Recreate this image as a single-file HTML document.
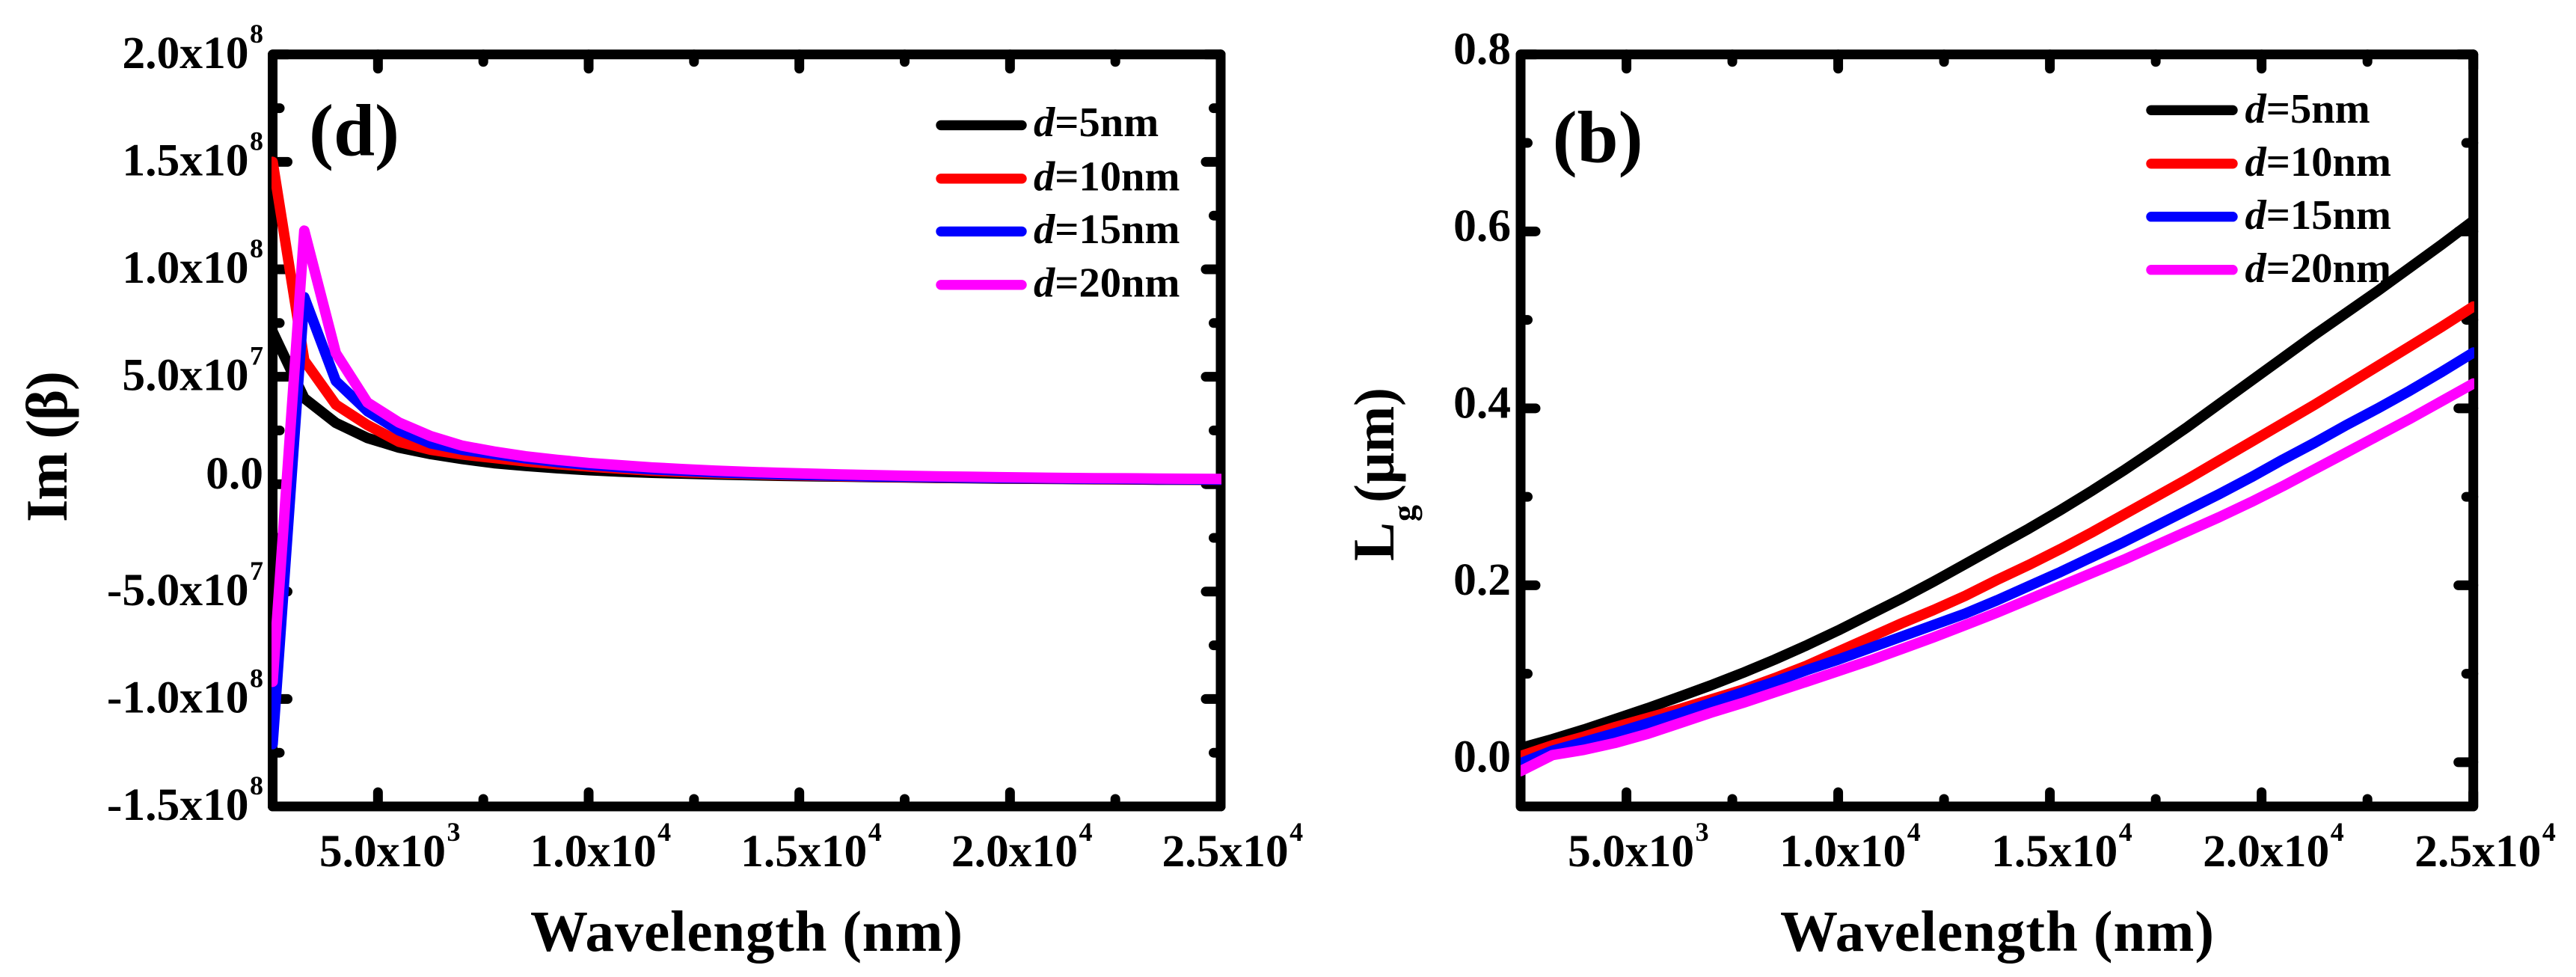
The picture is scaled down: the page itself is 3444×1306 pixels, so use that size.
<!DOCTYPE html>
<html lang="en">
<head>
<meta charset="utf-8">
<title>Im(β) and Lg versus wavelength</title>
<style>
html,body{margin:0;padding:0;background:#fff;}
svg{display:block;}
text{font-family:"Liberation Serif","DejaVu Serif",serif;font-weight:bold;fill:#000;}
</style>
</head>
<body>
<svg id="figure" xmlns="http://www.w3.org/2000/svg" width="3444" height="1306" viewBox="0 0 3444 1306">
<rect x="0" y="0" width="3444" height="1306" fill="#fff"/>
<defs>
<clipPath id="clip-left"><rect x="363" y="60" width="1270" height="1030"/></clipPath>
<clipPath id="clip-right"><rect x="2033" y="60" width="1275" height="1030"/></clipPath>
</defs>
<g id="panel-left"></g>
<g id="panel-right"></g>

<text x="413" y="207.6" font-size="99">(d)</text>
<text x="2075.6" y="216.5" font-size="99">(b)</text>

<text x="709" y="1271" font-size="77" textLength="578" lengthAdjust="spacing">Wavelength (nm)</text>
<text x="2380" y="1271" font-size="77" textLength="580" lengthAdjust="spacing">Wavelength (nm)</text>

<text transform="translate(89,698) rotate(-90)" font-size="78" textLength="202" lengthAdjust="spacing">Im (β)</text>
<g>
<text transform="translate(1863,750) rotate(-90)" font-size="78">L</text>
<text transform="translate(1892,697) rotate(-90)" font-size="44" font-weight="normal">g</text>
<text transform="translate(1863,672) rotate(-90)" font-size="76" textLength="154" lengthAdjust="spacingAndGlyphs">(μm)</text>
</g>

<g stroke-linecap="round">
<line x1="1258" x2="1366" y1="167.4" y2="167.4" stroke="#000" stroke-width="13.4"/>
<line x1="1258" x2="1366" y1="238.8" y2="238.8" stroke="#f00" stroke-width="13.4"/>
<line x1="1258" x2="1366" y1="309.4" y2="309.4" stroke="#00f" stroke-width="13.4"/>
<line x1="1258" x2="1366" y1="380.8" y2="380.8" stroke="#f0f" stroke-width="13.4"/>
<text x="1382" y="182" font-size="56.5"><tspan font-style="italic">d</tspan>=5nm</text>
<text x="1382" y="254.5" font-size="56.5"><tspan font-style="italic">d</tspan>=10nm</text>
<text x="1382" y="325" font-size="56.5"><tspan font-style="italic">d</tspan>=15nm</text>
<text x="1382" y="396.4" font-size="56.5"><tspan font-style="italic">d</tspan>=20nm</text>
</g>

<g stroke-linecap="round">
<line x1="2876" x2="2985" y1="147.3" y2="147.3" stroke="#000" stroke-width="13.4"/>
<line x1="2876" x2="2985" y1="218.8" y2="218.8" stroke="#f00" stroke-width="13.4"/>
<line x1="2876" x2="2985" y1="289.7" y2="289.7" stroke="#00f" stroke-width="13.4"/>
<line x1="2876" x2="2985" y1="360.7" y2="360.7" stroke="#f0f" stroke-width="13.4"/>
<text x="3001.5" y="163.8" font-size="56.5"><tspan font-style="italic">d</tspan>=5nm</text>
<text x="3001.5" y="235" font-size="56.5"><tspan font-style="italic">d</tspan>=10nm</text>
<text x="3001.5" y="306" font-size="56.5"><tspan font-style="italic">d</tspan>=15nm</text>
<text x="3001.5" y="377" font-size="56.5"><tspan font-style="italic">d</tspan>=20nm</text>
</g>
</svg>

<script>
// Shared x data (nm)
const wavelengths = [2500,3250,4000,4750,5500,6250,7000,7750,8500,9250,10000,10750,11500,12250,13000,13750,14500,15250,16000,16750,17500,18250,19000,19750,20500,21250,22000,22750,23500,24250,25000];

// Left panel: Im(beta), in units of 1e7
const imD5  = [7.1,4.0,2.85,2.15,1.7,1.4,1.17,0.98,0.85,0.74,0.65,0.58,0.53,0.49,0.45,0.42,0.39,0.37,0.35,0.33,0.31,0.29,0.28,0.26,0.25,0.24,0.23,0.22,0.21,0.205,0.20];
const imD10 = [15.0,5.76,3.7,2.75,1.97,1.6,1.38,1.22,1.06,0.93,0.82,0.72,0.63,0.56,0.51,0.47,0.43,0.40,0.37,0.345,0.325,0.305,0.29,0.275,0.26,0.25,0.24,0.23,0.22,0.21,0.205];
const imD15 = [-12.1,8.7,4.8,3.4,2.5,1.9,1.6,1.4,1.2,1.03,0.90,0.79,0.69,0.62,0.55,0.50,0.46,0.42,0.39,0.36,0.34,0.32,0.30,0.285,0.27,0.26,0.25,0.24,0.23,0.22,0.21];
const imD20 = [-9.2,11.8,6.1,3.8,2.87,2.24,1.79,1.52,1.3,1.13,0.99,0.88,0.78,0.70,0.63,0.57,0.53,0.49,0.45,0.42,0.39,0.365,0.345,0.325,0.305,0.29,0.28,0.27,0.26,0.25,0.24];

// Right panel: Lg (um)
const lgD5  = [0.016,0.026,0.037,0.049,0.061,0.074,0.087,0.101,0.116,0.132,0.149,0.167,0.185,0.204,0.224,0.244,0.264,0.285,0.307,0.330,0.354,0.379,0.405,0.431,0.457,0.483,0.508,0.533,0.559,0.585,0.612];
const lgD10 = [0.007,0.019,0.029,0.040,0.050,0.060,0.071,0.082,0.095,0.109,0.125,0.141,0.157,0.172,0.188,0.206,0.223,0.241,0.260,0.280,0.300,0.320,0.341,0.362,0.383,0.404,0.426,0.448,0.470,0.492,0.515];
const lgD15 = [-0.001,0.013,0.023,0.033,0.044,0.055,0.067,0.079,0.091,0.104,0.116,0.129,0.142,0.155,0.168,0.183,0.199,0.215,0.232,0.249,0.267,0.285,0.303,0.322,0.342,0.361,0.381,0.400,0.420,0.441,0.463];
const lgD20 = [-0.010,0.008,0.014,0.022,0.032,0.044,0.056,0.067,0.079,0.091,0.103,0.115,0.128,0.141,0.155,0.169,0.184,0.199,0.214,0.229,0.245,0.261,0.277,0.294,0.312,0.331,0.350,0.369,0.388,0.408,0.428];

// Tick values and labels
const xMajorTicks = [5000,10000,15000,20000,25000];
const xMinorTicks = [7500,12500,17500,22500];
const xTickMantissas = ["5.0","1.0","1.5","2.0","2.5"];
const xTickExponents = ["3","4","4","4","4"];

const imMajorTicks = [-1.5e8,-1e8,-5e7,0,5e7,1e8,1.5e8,2e8];
const imMinorTicks = [-1.25e8,-7.5e7,-2.5e7,2.5e7,7.5e7,1.25e8,1.75e8];
const imTickMantissas = ["-1.5","-1.0","-5.0","0.0","5.0","1.0","1.5","2.0"];
const imTickExponents = ["8","8","7","","7","8","8","8"];

const lgMajorTicks = [0,0.2,0.4,0.6,0.8];
const lgMinorTicks = [0.1,0.3,0.5,0.7];
const lgTickLabels = ["0.0","0.2","0.4","0.6","0.8"];

const seriesColors = ["#000","#f00","#00f","#f0f"];
const seriesNames = ["d5","d10","d15","d20"];

const NS = "http://www.w3.org/2000/svg";

function make(tag, attrs, parent){
  const node = document.createElementNS(NS, tag);
  for (const k in attrs) node.setAttribute(k, attrs[k]);
  parent.appendChild(node);
  return node;
}

function linearScale(d0, d1, r0, r1){
  return function(v){ return r0 + (v - d0) * (r1 - r0) / (d1 - d0); };
}

function drawTicks(g, x, y, box, values, axisName, side, len){
  values.forEach(function(v){
    const seg = len - 6.5;
    if (side === "x") {
      const px = x(v);
      const bottom = make("line", {x1:px, x2:px, y1:box.bottom, y2:box.bottom - seg}, g);
      
      
      const top = make("line", {x1:px, x2:px, y1:box.top, y2:box.top + seg}, g);
      
      
    } else {
      const py = y(v);
      const left = make("line", {x1:box.left, x2:box.left + seg, y1:py, y2:py}, g);
      
      
      const right = make("line", {x1:box.right, x2:box.right - seg, y1:py, y2:py}, g);
      
      
    }
  });
}

function addExponent(textNode, exp){
  const sup = make("tspan", {"font-size":36, dx:1.5, dy:-34}, textNode);
  
  
  sup.textContent = exp;
}

function drawPanel(cfg){
  const root = document.getElementById(cfg.id);
  const box = cfg.box;
  const x = linearScale(2500, 25000, box.left, box.right);
  const y = linearScale(cfg.yMin, cfg.yMax, box.bottom, box.top);

  const frame = make("rect", {x:box.left, y:box.top, width:box.right-box.left, height:box.bottom-box.top, fill:"none", stroke:"#000", "stroke-width":13, "stroke-linejoin":"round"}, root);
  
  

  const ticks = make("g", {stroke:"#000", "stroke-width":13, "stroke-linecap":"round"}, root);
  
  
  drawTicks(ticks, x, y, box, xMajorTicks, 'x-major', "x", 25.5);
  drawTicks(ticks, x, y, box, xMinorTicks, 'x-minor', "x", 16.5);
  drawTicks(ticks, x, y, box, cfg.yMajor, 'y-major', "y", 26.5);
  drawTicks(ticks, x, y, box, cfg.yMinor, 'y-minor', "y", 16);

  // x tick labels
  xMajorTicks.forEach(function(v, i){
    const t = make("text", {x:x(v) - 78.5, y:1158, "font-size":61.5}, root);
    
    
    t.appendChild(document.createTextNode(xTickMantissas[i] + "x10"));
    addExponent(t, xTickExponents[i]);
  });

  // y tick labels
  cfg.yMajor.forEach(function(v, i){
    const exp = cfg.yExps ? cfg.yExps[i] : "";
    const t = make("text", {x:cfg.labelRight, y:y(v) + (exp ? cfg.expOffset : cfg.plainOffset), "font-size":61.5, "text-anchor":"end"}, root);
    
    
    t.appendChild(document.createTextNode(cfg.yLabels[i] + (exp ? "x10" : "")));
    if (exp) addExponent(t, exp);
  });

  // curves
  const curves = make("g", {"clip-path":"url(#" + cfg.clip + ")", fill:"none", "stroke-width":14, "stroke-linejoin":"round", "stroke-linecap":"round"}, root);
  
  
  cfg.series.forEach(function(vals, s){
    const d = vals.map(function(v, i){
      return (i ? "L" : "M") + x(wavelengths[i]).toFixed(1) + " " + y(v * cfg.unit).toFixed(1);
    }).join(" ");
    const p = make("path", {d:d, stroke:seriesColors[s]}, curves);
    
    
  });
}

const leftPlotBox = {left:364.5, right:1632, top:72.8, bottom:1078};
const rightPlotBox = {left:2033, right:3306.7, top:72.8, bottom:1078};

drawPanel({
  id:"panel-left", clip:"clip-left", box:leftPlotBox,
  yMin:-1.5e8, yMax:2e8, unit:1e7,
  yMajor:imMajorTicks, yMinor:imMinorTicks,
  yLabels:imTickMantissas, yExps:imTickExponents,
  labelRight:352, expOffset:18, plainOffset:6,
  series:[imD5, imD10, imD15, imD20]
});

drawPanel({
  id:"panel-right", clip:"clip-right", box:rightPlotBox,
  yMin:-0.05, yMax:0.8, unit:1,
  yMajor:lgMajorTicks, yMinor:lgMinorTicks,
  yLabels:lgTickLabels, yExps:null,
  labelRight:2020, expOffset:13, plainOffset:12.5,
  series:[lgD5, lgD10, lgD15, lgD20]
});
</script>
</body>
</html>
